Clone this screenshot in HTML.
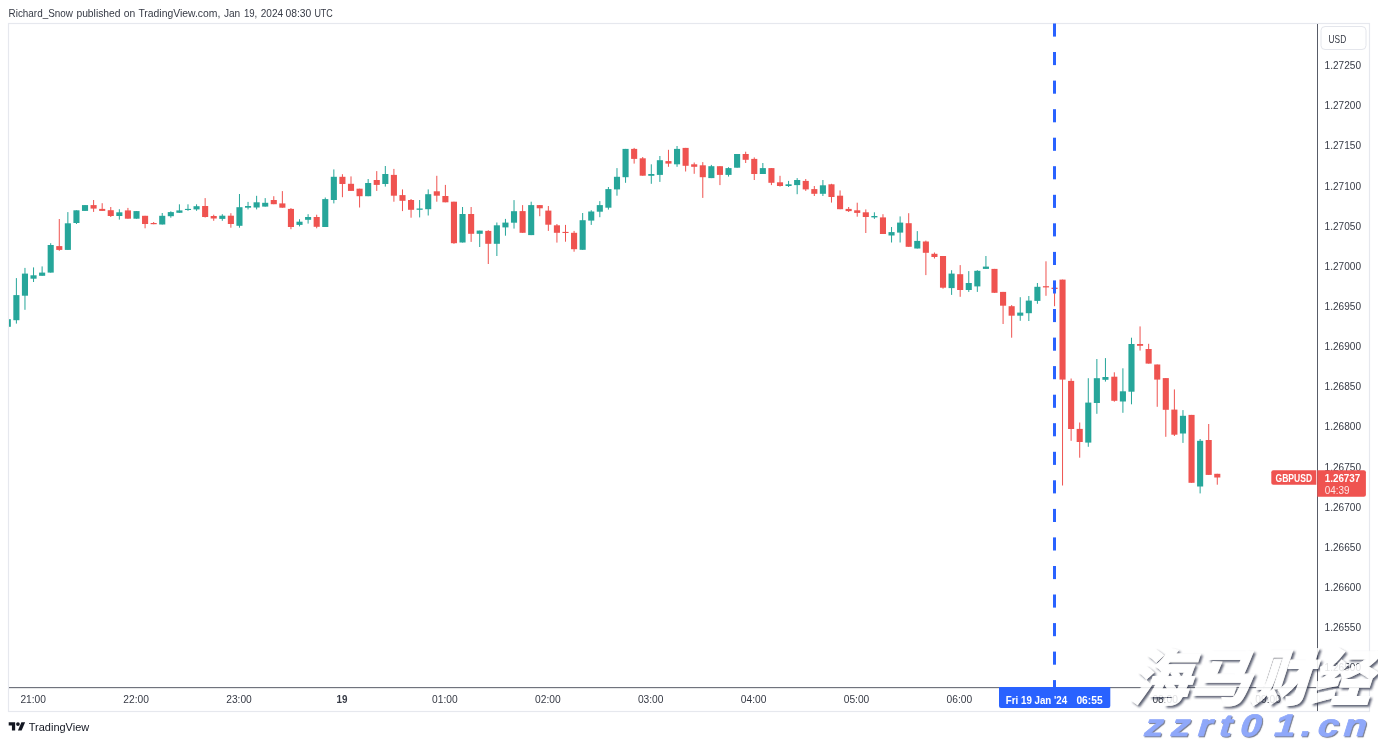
<!DOCTYPE html>
<html lang="en"><head><meta charset="utf-8"><title>GBPUSD chart</title>
<style>
html,body{margin:0;padding:0;background:#fff;}
body{width:1378px;height:742px;overflow:hidden;position:relative;font-family:"Liberation Sans",sans-serif;}
svg{position:absolute;left:0;top:0;display:block}
text{font-family:"Liberation Sans",sans-serif;}
.ax{font-size:11px;fill:#363a45}
.wm1{font-family:"Liberation Sans","Noto Sans CJK SC",sans-serif;font-weight:900;}
</style></head><body>
<svg width="1378" height="742" viewBox="0 0 1378 742">
<defs>
<filter id="sh" x="-5%" y="-10%" width="110%" height="125%"><feDropShadow dx="2" dy="1.9" stdDeviation="0.8" flood-color="#3a3f55" flood-opacity="0.95"/></filter>
<filter id="sh2" x="-5%" y="-20%" width="110%" height="150%"><feDropShadow dx="1.1" dy="1.1" stdDeviation="0.35" flood-color="#7d8294" flood-opacity="1"/></filter>
<clipPath id="plot"><rect x="9" y="24" width="1308" height="663"/></clipPath>
</defs>

<text y="16.5" class="ax"><tspan x="8.6" textLength="64.3" lengthAdjust="spacingAndGlyphs">Richard_Snow</tspan> <tspan x="76.4" textLength="44.2" lengthAdjust="spacingAndGlyphs">published</tspan> <tspan x="123.8" textLength="11.5" lengthAdjust="spacingAndGlyphs">on</tspan> <tspan x="138.4" textLength="82.0" lengthAdjust="spacingAndGlyphs">TradingView.com,</tspan> <tspan x="223.9" textLength="16.3" lengthAdjust="spacingAndGlyphs">Jan</tspan> <tspan x="243.9" textLength="13.4" lengthAdjust="spacingAndGlyphs">19,</tspan> <tspan x="260.7" textLength="22.4" lengthAdjust="spacingAndGlyphs">2024</tspan> <tspan x="285.5" textLength="25.8" lengthAdjust="spacingAndGlyphs">08:30</tspan> <tspan x="314.4" textLength="18.4" lengthAdjust="spacingAndGlyphs">UTC</tspan></text>
<rect x="8.5" y="23.5" width="1361" height="688" fill="#fff" stroke="#e6e8ee" stroke-width="1.2"/>
<text x="20.4" y="703" class="ax" text-anchor="start" textLength="25.6" lengthAdjust="spacingAndGlyphs" >21:00</text>
<text x="123.3" y="703" class="ax" text-anchor="start" textLength="25.6" lengthAdjust="spacingAndGlyphs" >22:00</text>
<text x="226.2" y="703" class="ax" text-anchor="start" textLength="25.6" lengthAdjust="spacingAndGlyphs" >23:00</text>
<text x="336.4" y="703" class="ax" text-anchor="start" textLength="11" lengthAdjust="spacingAndGlyphs" font-weight="bold">19</text>
<text x="432.0" y="703" class="ax" text-anchor="start" textLength="25.6" lengthAdjust="spacingAndGlyphs" >01:00</text>
<text x="535.0" y="703" class="ax" text-anchor="start" textLength="25.6" lengthAdjust="spacingAndGlyphs" >02:00</text>
<text x="637.9" y="703" class="ax" text-anchor="start" textLength="25.6" lengthAdjust="spacingAndGlyphs" >03:00</text>
<text x="740.8" y="703" class="ax" text-anchor="start" textLength="25.6" lengthAdjust="spacingAndGlyphs" >04:00</text>
<text x="843.7" y="703" class="ax" text-anchor="start" textLength="25.6" lengthAdjust="spacingAndGlyphs" >05:00</text>
<text x="946.6" y="703" class="ax" text-anchor="start" textLength="25.6" lengthAdjust="spacingAndGlyphs" >06:00</text>
<text x="1049.5" y="703" class="ax" text-anchor="start" textLength="25.6" lengthAdjust="spacingAndGlyphs" >07:00</text>
<text x="1152.4" y="703" class="ax" text-anchor="start" textLength="25.6" lengthAdjust="spacingAndGlyphs" >08:00</text>
<text x="1255.3" y="703" class="ax" text-anchor="start" textLength="25.6" lengthAdjust="spacingAndGlyphs" >09:00</text>
<text x="1324.6" y="69.1" class="ax" text-anchor="start" textLength="36.4" lengthAdjust="spacingAndGlyphs" >1.27250</text>
<text x="1324.6" y="109.2" class="ax" text-anchor="start" textLength="36.4" lengthAdjust="spacingAndGlyphs" >1.27200</text>
<text x="1324.6" y="149.4" class="ax" text-anchor="start" textLength="36.4" lengthAdjust="spacingAndGlyphs" >1.27150</text>
<text x="1324.6" y="189.5" class="ax" text-anchor="start" textLength="36.4" lengthAdjust="spacingAndGlyphs" >1.27100</text>
<text x="1324.6" y="229.7" class="ax" text-anchor="start" textLength="36.4" lengthAdjust="spacingAndGlyphs" >1.27050</text>
<text x="1324.6" y="269.8" class="ax" text-anchor="start" textLength="36.4" lengthAdjust="spacingAndGlyphs" >1.27000</text>
<text x="1324.6" y="309.9" class="ax" text-anchor="start" textLength="36.4" lengthAdjust="spacingAndGlyphs" >1.26950</text>
<text x="1324.6" y="350.1" class="ax" text-anchor="start" textLength="36.4" lengthAdjust="spacingAndGlyphs" >1.26900</text>
<text x="1324.6" y="390.2" class="ax" text-anchor="start" textLength="36.4" lengthAdjust="spacingAndGlyphs" >1.26850</text>
<text x="1324.6" y="430.4" class="ax" text-anchor="start" textLength="36.4" lengthAdjust="spacingAndGlyphs" >1.26800</text>
<text x="1324.6" y="470.5" class="ax" text-anchor="start" textLength="36.4" lengthAdjust="spacingAndGlyphs" >1.26750</text>
<text x="1324.6" y="510.6" class="ax" text-anchor="start" textLength="36.4" lengthAdjust="spacingAndGlyphs" >1.26700</text>
<text x="1324.6" y="550.8" class="ax" text-anchor="start" textLength="36.4" lengthAdjust="spacingAndGlyphs" >1.26650</text>
<text x="1324.6" y="590.9" class="ax" text-anchor="start" textLength="36.4" lengthAdjust="spacingAndGlyphs" >1.26600</text>
<text x="1324.6" y="631.1" class="ax" text-anchor="start" textLength="36.4" lengthAdjust="spacingAndGlyphs" >1.26550</text>
<text x="1324.6" y="671.2" class="ax" text-anchor="start" textLength="36.4" lengthAdjust="spacingAndGlyphs" >1.26500</text>
<rect x="1321" y="26.5" width="45" height="23" rx="4" fill="#fff" stroke="#e4e6ec" stroke-width="1"/>
<text x="1328.6" y="42.6" class="ax" text-anchor="start" textLength="17.6" lengthAdjust="spacingAndGlyphs" >USD</text>
<rect x="1317" y="24" width="1" height="687" fill="#585c67"/>
<rect x="9" y="687.15" width="1360" height="1" fill="#585c67"/>
<g clip-path="url(#plot)">
<rect x="7.30" y="319.2" width="1" height="7.6" fill="#26a69a"/>
<rect x="4.75" y="319.2" width="6.1" height="7.6" fill="#26a69a"/>
<rect x="15.88" y="278.1" width="1" height="45.5" fill="#26a69a"/>
<rect x="13.33" y="295.1" width="6.1" height="25.1" fill="#26a69a"/>
<rect x="24.46" y="267.9" width="1" height="41.9" fill="#26a69a"/>
<rect x="21.91" y="273.6" width="6.1" height="22.1" fill="#26a69a"/>
<rect x="33.04" y="267.4" width="1" height="14.6" fill="#26a69a"/>
<rect x="30.49" y="275.3" width="6.1" height="3.4" fill="#26a69a"/>
<rect x="41.62" y="266.4" width="1" height="9.4" fill="#26a69a"/>
<rect x="39.07" y="272.6" width="6.1" height="3.2" fill="#26a69a"/>
<rect x="50.20" y="243.2" width="1" height="29.4" fill="#26a69a"/>
<rect x="47.65" y="245.0" width="6.1" height="27.6" fill="#26a69a"/>
<rect x="58.78" y="219.0" width="1" height="31.8" fill="#ef5350"/>
<rect x="56.23" y="246.1" width="6.1" height="3.8" fill="#ef5350"/>
<rect x="67.36" y="212.1" width="1" height="37.8" fill="#26a69a"/>
<rect x="64.81" y="223.3" width="6.1" height="26.6" fill="#26a69a"/>
<rect x="75.94" y="210.3" width="1" height="13.7" fill="#26a69a"/>
<rect x="73.39" y="210.3" width="6.1" height="12.7" fill="#26a69a"/>
<rect x="84.52" y="205.1" width="1" height="5.8" fill="#26a69a"/>
<rect x="81.97" y="205.1" width="6.1" height="5.8" fill="#26a69a"/>
<rect x="93.10" y="200.0" width="1" height="11.9" fill="#ef5350"/>
<rect x="90.55" y="205.1" width="6.1" height="3.5" fill="#ef5350"/>
<rect x="101.68" y="203.2" width="1" height="7.7" fill="#ef5350"/>
<rect x="99.13" y="208.9" width="6.1" height="2.0" fill="#ef5350"/>
<rect x="110.26" y="207.0" width="1" height="10.0" fill="#ef5350"/>
<rect x="107.71" y="210.2" width="6.1" height="5.8" fill="#ef5350"/>
<rect x="118.84" y="209.2" width="1" height="10.4" fill="#26a69a"/>
<rect x="116.29" y="212.3" width="6.1" height="3.7" fill="#26a69a"/>
<rect x="127.42" y="207.9" width="1" height="10.8" fill="#ef5350"/>
<rect x="124.87" y="210.4" width="6.1" height="8.3" fill="#ef5350"/>
<rect x="136.00" y="211.1" width="1" height="7.6" fill="#26a69a"/>
<rect x="133.45" y="211.1" width="6.1" height="7.6" fill="#26a69a"/>
<rect x="144.58" y="215.8" width="1" height="12.5" fill="#ef5350"/>
<rect x="142.03" y="215.8" width="6.1" height="8.2" fill="#ef5350"/>
<rect x="153.16" y="222.0" width="1" height="2.2" fill="#ef5350"/>
<rect x="150.61" y="223.0" width="6.1" height="1.2" fill="#ef5350"/>
<rect x="161.74" y="213.0" width="1" height="11.5" fill="#26a69a"/>
<rect x="159.19" y="215.8" width="6.1" height="8.7" fill="#26a69a"/>
<rect x="170.32" y="211.3" width="1" height="6.4" fill="#26a69a"/>
<rect x="167.77" y="212.1" width="6.1" height="4.1" fill="#26a69a"/>
<rect x="178.90" y="204.3" width="1" height="8.5" fill="#26a69a"/>
<rect x="176.35" y="210.4" width="6.1" height="2.4" fill="#26a69a"/>
<rect x="187.48" y="204.3" width="1" height="6.5" fill="#26a69a"/>
<rect x="184.93" y="208.9" width="6.1" height="1.1" fill="#26a69a"/>
<rect x="196.06" y="204.3" width="1" height="6.5" fill="#26a69a"/>
<rect x="193.51" y="206.2" width="6.1" height="3.2" fill="#26a69a"/>
<rect x="204.64" y="198.1" width="1" height="19.4" fill="#ef5350"/>
<rect x="202.09" y="206.0" width="6.1" height="11.0" fill="#ef5350"/>
<rect x="213.22" y="214.7" width="1" height="6.1" fill="#ef5350"/>
<rect x="210.67" y="216.0" width="6.1" height="2.5" fill="#ef5350"/>
<rect x="221.80" y="214.2" width="1" height="6.6" fill="#26a69a"/>
<rect x="219.25" y="215.7" width="6.1" height="3.2" fill="#26a69a"/>
<rect x="230.38" y="213.2" width="1" height="14.5" fill="#ef5350"/>
<rect x="227.83" y="215.7" width="6.1" height="8.3" fill="#ef5350"/>
<rect x="238.96" y="194.0" width="1" height="33.7" fill="#26a69a"/>
<rect x="236.41" y="207.2" width="6.1" height="18.6" fill="#26a69a"/>
<rect x="247.54" y="201.9" width="1" height="7.5" fill="#26a69a"/>
<rect x="244.99" y="206.0" width="6.1" height="1.7" fill="#26a69a"/>
<rect x="256.12" y="195.8" width="1" height="13.6" fill="#26a69a"/>
<rect x="253.57" y="202.3" width="6.1" height="5.2" fill="#26a69a"/>
<rect x="264.70" y="198.1" width="1" height="8.5" fill="#26a69a"/>
<rect x="262.15" y="202.8" width="6.1" height="3.8" fill="#26a69a"/>
<rect x="273.28" y="196.2" width="1" height="8.0" fill="#ef5350"/>
<rect x="270.73" y="200.0" width="6.1" height="4.2" fill="#ef5350"/>
<rect x="281.86" y="191.1" width="1" height="16.6" fill="#ef5350"/>
<rect x="279.31" y="203.4" width="6.1" height="4.3" fill="#ef5350"/>
<rect x="290.44" y="208.1" width="1" height="21.1" fill="#ef5350"/>
<rect x="287.89" y="208.9" width="6.1" height="18.1" fill="#ef5350"/>
<rect x="299.02" y="219.2" width="1" height="7.2" fill="#26a69a"/>
<rect x="296.47" y="221.7" width="6.1" height="3.2" fill="#26a69a"/>
<rect x="307.60" y="214.2" width="1" height="9.4" fill="#26a69a"/>
<rect x="305.05" y="217.0" width="6.1" height="2.8" fill="#26a69a"/>
<rect x="316.18" y="214.7" width="1" height="13.6" fill="#ef5350"/>
<rect x="313.63" y="217.0" width="6.1" height="9.8" fill="#ef5350"/>
<rect x="324.76" y="197.5" width="1" height="29.5" fill="#26a69a"/>
<rect x="322.21" y="199.1" width="6.1" height="27.9" fill="#26a69a"/>
<rect x="333.34" y="169.4" width="1" height="34.0" fill="#26a69a"/>
<rect x="330.79" y="176.8" width="6.1" height="23.2" fill="#26a69a"/>
<rect x="341.92" y="174.2" width="1" height="23.0" fill="#ef5350"/>
<rect x="339.37" y="176.8" width="6.1" height="7.2" fill="#ef5350"/>
<rect x="350.50" y="176.4" width="1" height="14.5" fill="#ef5350"/>
<rect x="347.95" y="183.8" width="6.1" height="7.1" fill="#ef5350"/>
<rect x="359.08" y="188.7" width="1" height="18.8" fill="#ef5350"/>
<rect x="356.53" y="188.7" width="6.1" height="7.5" fill="#ef5350"/>
<rect x="367.66" y="179.0" width="1" height="17.2" fill="#26a69a"/>
<rect x="365.11" y="183.0" width="6.1" height="13.2" fill="#26a69a"/>
<rect x="376.24" y="171.1" width="1" height="19.8" fill="#ef5350"/>
<rect x="373.69" y="180.0" width="6.1" height="4.9" fill="#ef5350"/>
<rect x="384.82" y="166.0" width="1" height="20.6" fill="#26a69a"/>
<rect x="382.27" y="174.0" width="6.1" height="10.0" fill="#26a69a"/>
<rect x="393.40" y="168.9" width="1" height="32.8" fill="#ef5350"/>
<rect x="390.85" y="174.9" width="6.1" height="20.8" fill="#ef5350"/>
<rect x="401.98" y="189.4" width="1" height="21.7" fill="#ef5350"/>
<rect x="399.43" y="195.1" width="6.1" height="5.7" fill="#ef5350"/>
<rect x="410.56" y="199.0" width="1" height="18.7" fill="#ef5350"/>
<rect x="408.01" y="200.0" width="6.1" height="9.8" fill="#ef5350"/>
<rect x="419.14" y="200.0" width="1" height="17.4" fill="#26a69a"/>
<rect x="416.59" y="208.5" width="6.1" height="1.3" fill="#26a69a"/>
<rect x="427.72" y="189.4" width="1" height="26.1" fill="#26a69a"/>
<rect x="425.17" y="194.2" width="6.1" height="15.0" fill="#26a69a"/>
<rect x="436.30" y="175.8" width="1" height="25.9" fill="#ef5350"/>
<rect x="433.75" y="191.3" width="6.1" height="4.4" fill="#ef5350"/>
<rect x="444.88" y="184.9" width="1" height="17.4" fill="#ef5350"/>
<rect x="442.33" y="196.0" width="6.1" height="6.3" fill="#ef5350"/>
<rect x="453.46" y="201.7" width="1" height="42.1" fill="#ef5350"/>
<rect x="450.91" y="201.7" width="6.1" height="41.5" fill="#ef5350"/>
<rect x="462.04" y="207.0" width="1" height="35.5" fill="#26a69a"/>
<rect x="459.49" y="214.0" width="6.1" height="28.5" fill="#26a69a"/>
<rect x="470.62" y="207.0" width="1" height="34.9" fill="#ef5350"/>
<rect x="468.07" y="214.0" width="6.1" height="19.8" fill="#ef5350"/>
<rect x="479.20" y="230.6" width="1" height="16.4" fill="#26a69a"/>
<rect x="476.65" y="230.6" width="6.1" height="3.2" fill="#26a69a"/>
<rect x="487.78" y="230.2" width="1" height="33.8" fill="#ef5350"/>
<rect x="485.23" y="230.9" width="6.1" height="12.9" fill="#ef5350"/>
<rect x="496.36" y="222.5" width="1" height="33.5" fill="#26a69a"/>
<rect x="493.81" y="225.3" width="6.1" height="18.5" fill="#26a69a"/>
<rect x="504.94" y="218.9" width="1" height="16.8" fill="#26a69a"/>
<rect x="502.39" y="222.6" width="6.1" height="4.8" fill="#26a69a"/>
<rect x="513.52" y="200.1" width="1" height="28.5" fill="#26a69a"/>
<rect x="510.97" y="211.2" width="6.1" height="11.5" fill="#26a69a"/>
<rect x="522.10" y="205.1" width="1" height="27.7" fill="#ef5350"/>
<rect x="519.55" y="211.1" width="6.1" height="21.7" fill="#ef5350"/>
<rect x="530.68" y="201.7" width="1" height="33.4" fill="#26a69a"/>
<rect x="528.13" y="205.1" width="6.1" height="30.0" fill="#26a69a"/>
<rect x="539.26" y="205.1" width="1" height="11.1" fill="#ef5350"/>
<rect x="536.71" y="205.1" width="6.1" height="3.2" fill="#ef5350"/>
<rect x="547.84" y="206.0" width="1" height="24.9" fill="#ef5350"/>
<rect x="545.29" y="210.6" width="6.1" height="14.1" fill="#ef5350"/>
<rect x="556.42" y="224.0" width="1" height="18.6" fill="#ef5350"/>
<rect x="553.87" y="225.3" width="6.1" height="7.5" fill="#ef5350"/>
<rect x="565.00" y="224.9" width="1" height="16.8" fill="#ef5350"/>
<rect x="562.45" y="231.9" width="6.1" height="1.1" fill="#ef5350"/>
<rect x="573.58" y="230.9" width="1" height="20.8" fill="#ef5350"/>
<rect x="571.03" y="232.8" width="6.1" height="16.4" fill="#ef5350"/>
<rect x="582.16" y="213.0" width="1" height="36.8" fill="#26a69a"/>
<rect x="579.61" y="220.2" width="6.1" height="29.6" fill="#26a69a"/>
<rect x="590.74" y="210.2" width="1" height="14.7" fill="#26a69a"/>
<rect x="588.19" y="211.5" width="6.1" height="9.1" fill="#26a69a"/>
<rect x="599.32" y="201.1" width="1" height="16.1" fill="#26a69a"/>
<rect x="596.77" y="205.1" width="6.1" height="6.6" fill="#26a69a"/>
<rect x="607.90" y="187.0" width="1" height="22.6" fill="#26a69a"/>
<rect x="605.35" y="189.1" width="6.1" height="18.6" fill="#26a69a"/>
<rect x="616.48" y="168.1" width="1" height="27.6" fill="#26a69a"/>
<rect x="613.93" y="176.8" width="6.1" height="12.6" fill="#26a69a"/>
<rect x="625.06" y="148.9" width="1" height="33.9" fill="#26a69a"/>
<rect x="622.51" y="148.9" width="6.1" height="28.3" fill="#26a69a"/>
<rect x="633.64" y="147.9" width="1" height="15.7" fill="#ef5350"/>
<rect x="631.09" y="148.9" width="6.1" height="10.0" fill="#ef5350"/>
<rect x="642.22" y="157.0" width="1" height="18.7" fill="#ef5350"/>
<rect x="639.67" y="158.3" width="6.1" height="17.4" fill="#ef5350"/>
<rect x="650.80" y="164.3" width="1" height="19.5" fill="#26a69a"/>
<rect x="648.25" y="174.0" width="6.1" height="1.8" fill="#26a69a"/>
<rect x="659.38" y="156.0" width="1" height="25.9" fill="#26a69a"/>
<rect x="656.83" y="160.2" width="6.1" height="14.7" fill="#26a69a"/>
<rect x="667.96" y="149.8" width="1" height="17.0" fill="#ef5350"/>
<rect x="665.41" y="161.1" width="6.1" height="2.5" fill="#ef5350"/>
<rect x="676.54" y="146.0" width="1" height="20.8" fill="#26a69a"/>
<rect x="673.99" y="148.9" width="6.1" height="15.4" fill="#26a69a"/>
<rect x="685.12" y="147.9" width="1" height="23.6" fill="#ef5350"/>
<rect x="682.57" y="147.9" width="6.1" height="17.9" fill="#ef5350"/>
<rect x="693.70" y="162.5" width="1" height="11.3" fill="#ef5350"/>
<rect x="691.15" y="164.3" width="6.1" height="2.5" fill="#ef5350"/>
<rect x="702.28" y="162.1" width="1" height="35.8" fill="#ef5350"/>
<rect x="699.73" y="165.3" width="6.1" height="11.9" fill="#ef5350"/>
<rect x="710.86" y="164.9" width="1" height="13.2" fill="#26a69a"/>
<rect x="708.31" y="166.2" width="6.1" height="11.9" fill="#26a69a"/>
<rect x="719.44" y="166.2" width="1" height="18.9" fill="#ef5350"/>
<rect x="716.89" y="166.2" width="6.1" height="8.7" fill="#ef5350"/>
<rect x="728.02" y="167.2" width="1" height="9.4" fill="#26a69a"/>
<rect x="725.47" y="168.1" width="6.1" height="6.8" fill="#26a69a"/>
<rect x="736.60" y="154.0" width="1" height="13.7" fill="#26a69a"/>
<rect x="734.05" y="154.0" width="6.1" height="13.7" fill="#26a69a"/>
<rect x="745.18" y="151.7" width="1" height="11.3" fill="#ef5350"/>
<rect x="742.63" y="154.0" width="6.1" height="5.8" fill="#ef5350"/>
<rect x="753.76" y="157.4" width="1" height="22.6" fill="#ef5350"/>
<rect x="751.21" y="158.9" width="6.1" height="15.1" fill="#ef5350"/>
<rect x="762.34" y="163.0" width="1" height="11.0" fill="#26a69a"/>
<rect x="759.79" y="168.1" width="6.1" height="5.9" fill="#26a69a"/>
<rect x="770.92" y="168.1" width="1" height="17.0" fill="#ef5350"/>
<rect x="768.37" y="168.1" width="6.1" height="14.7" fill="#ef5350"/>
<rect x="779.50" y="175.8" width="1" height="10.8" fill="#ef5350"/>
<rect x="776.95" y="182.3" width="6.1" height="3.7" fill="#ef5350"/>
<rect x="788.08" y="180.9" width="1" height="6.1" fill="#26a69a"/>
<rect x="785.53" y="184.3" width="6.1" height="1.7" fill="#26a69a"/>
<rect x="796.66" y="178.1" width="1" height="16.1" fill="#26a69a"/>
<rect x="794.11" y="180.0" width="6.1" height="5.1" fill="#26a69a"/>
<rect x="805.24" y="179.0" width="1" height="11.9" fill="#ef5350"/>
<rect x="802.69" y="180.9" width="6.1" height="8.5" fill="#ef5350"/>
<rect x="813.82" y="186.0" width="1" height="10.0" fill="#ef5350"/>
<rect x="811.27" y="189.1" width="6.1" height="4.7" fill="#ef5350"/>
<rect x="822.40" y="180.0" width="1" height="16.0" fill="#26a69a"/>
<rect x="819.85" y="185.3" width="6.1" height="8.5" fill="#26a69a"/>
<rect x="830.98" y="183.8" width="1" height="18.8" fill="#ef5350"/>
<rect x="828.43" y="184.3" width="6.1" height="12.7" fill="#ef5350"/>
<rect x="839.56" y="190.4" width="1" height="18.8" fill="#ef5350"/>
<rect x="837.01" y="195.7" width="6.1" height="13.5" fill="#ef5350"/>
<rect x="848.14" y="207.0" width="1" height="5.0" fill="#ef5350"/>
<rect x="845.59" y="208.9" width="6.1" height="2.2" fill="#ef5350"/>
<rect x="856.72" y="202.7" width="1" height="14.0" fill="#ef5350"/>
<rect x="854.17" y="210.3" width="6.1" height="2.6" fill="#ef5350"/>
<rect x="865.30" y="209.4" width="1" height="23.6" fill="#ef5350"/>
<rect x="862.75" y="212.3" width="6.1" height="4.7" fill="#ef5350"/>
<rect x="873.88" y="212.3" width="1" height="6.6" fill="#26a69a"/>
<rect x="871.33" y="216.0" width="6.1" height="1.4" fill="#26a69a"/>
<rect x="882.46" y="214.2" width="1" height="19.8" fill="#ef5350"/>
<rect x="879.91" y="217.4" width="6.1" height="16.6" fill="#ef5350"/>
<rect x="891.04" y="227.0" width="1" height="15.5" fill="#26a69a"/>
<rect x="888.49" y="232.1" width="6.1" height="3.4" fill="#26a69a"/>
<rect x="899.62" y="216.4" width="1" height="26.1" fill="#26a69a"/>
<rect x="897.07" y="222.6" width="6.1" height="10.0" fill="#26a69a"/>
<rect x="908.20" y="213.2" width="1" height="33.6" fill="#ef5350"/>
<rect x="905.65" y="223.2" width="6.1" height="23.6" fill="#ef5350"/>
<rect x="916.78" y="231.1" width="1" height="17.4" fill="#26a69a"/>
<rect x="914.23" y="240.9" width="6.1" height="7.6" fill="#26a69a"/>
<rect x="925.36" y="240.6" width="1" height="34.5" fill="#ef5350"/>
<rect x="922.81" y="241.5" width="6.1" height="11.3" fill="#ef5350"/>
<rect x="933.94" y="252.5" width="1" height="6.0" fill="#ef5350"/>
<rect x="931.39" y="253.8" width="6.1" height="3.2" fill="#ef5350"/>
<rect x="942.52" y="256.0" width="1" height="32.7" fill="#ef5350"/>
<rect x="939.97" y="256.0" width="6.1" height="31.7" fill="#ef5350"/>
<rect x="951.10" y="270.2" width="1" height="24.7" fill="#26a69a"/>
<rect x="948.55" y="273.6" width="6.1" height="14.5" fill="#26a69a"/>
<rect x="959.68" y="265.1" width="1" height="31.7" fill="#ef5350"/>
<rect x="957.13" y="274.2" width="6.1" height="15.8" fill="#ef5350"/>
<rect x="968.26" y="271.1" width="1" height="20.8" fill="#26a69a"/>
<rect x="965.71" y="283.0" width="6.1" height="7.0" fill="#26a69a"/>
<rect x="976.84" y="270.2" width="1" height="21.7" fill="#26a69a"/>
<rect x="974.29" y="270.8" width="6.1" height="15.6" fill="#26a69a"/>
<rect x="985.42" y="256.0" width="1" height="12.9" fill="#26a69a"/>
<rect x="982.87" y="266.6" width="6.1" height="2.3" fill="#26a69a"/>
<rect x="994.00" y="268.9" width="1" height="23.9" fill="#ef5350"/>
<rect x="991.45" y="268.9" width="6.1" height="23.9" fill="#ef5350"/>
<rect x="1002.58" y="291.9" width="1" height="32.1" fill="#ef5350"/>
<rect x="1000.03" y="291.9" width="6.1" height="13.8" fill="#ef5350"/>
<rect x="1011.16" y="305.1" width="1" height="32.6" fill="#ef5350"/>
<rect x="1008.61" y="306.2" width="6.1" height="9.5" fill="#ef5350"/>
<rect x="1019.74" y="297.2" width="1" height="23.6" fill="#26a69a"/>
<rect x="1017.19" y="312.6" width="6.1" height="3.1" fill="#26a69a"/>
<rect x="1028.32" y="296.0" width="1" height="25.0" fill="#26a69a"/>
<rect x="1025.77" y="300.6" width="6.1" height="12.6" fill="#26a69a"/>
<rect x="1036.90" y="283.0" width="1" height="20.8" fill="#26a69a"/>
<rect x="1034.35" y="286.8" width="6.1" height="14.1" fill="#26a69a"/>
<rect x="1045.48" y="261.3" width="1" height="34.5" fill="#ef5350"/>
<rect x="1042.93" y="286.2" width="6.1" height="1.2" fill="#ef5350"/>
<rect x="1054.06" y="287.7" width="1" height="18.5" fill="#ef5350"/>
<rect x="1051.51" y="287.7" width="6.1" height="1.3" fill="#ef5350"/>
<rect x="1062.04" y="279.6" width="1" height="205.9" fill="#ef5350"/>
<rect x="1059.49" y="279.6" width="6.1" height="100.0" fill="#ef5350"/>
<rect x="1070.62" y="378.5" width="1" height="62.3" fill="#ef5350"/>
<rect x="1068.07" y="380.9" width="6.1" height="48.1" fill="#ef5350"/>
<rect x="1079.20" y="422.5" width="1" height="35.2" fill="#ef5350"/>
<rect x="1076.65" y="428.9" width="6.1" height="13.1" fill="#ef5350"/>
<rect x="1087.78" y="378.2" width="1" height="68.6" fill="#26a69a"/>
<rect x="1085.23" y="402.6" width="6.1" height="40.0" fill="#26a69a"/>
<rect x="1096.36" y="359.0" width="1" height="54.8" fill="#26a69a"/>
<rect x="1093.81" y="378.2" width="6.1" height="24.8" fill="#26a69a"/>
<rect x="1104.94" y="358.1" width="1" height="23.5" fill="#26a69a"/>
<rect x="1102.39" y="377.0" width="6.1" height="2.8" fill="#26a69a"/>
<rect x="1113.82" y="372.3" width="1" height="29.4" fill="#ef5350"/>
<rect x="1111.27" y="376.7" width="6.1" height="24.1" fill="#ef5350"/>
<rect x="1122.40" y="368.3" width="1" height="44.5" fill="#26a69a"/>
<rect x="1119.85" y="391.3" width="6.1" height="10.2" fill="#26a69a"/>
<rect x="1130.98" y="337.7" width="1" height="66.6" fill="#26a69a"/>
<rect x="1128.43" y="344.0" width="6.1" height="47.7" fill="#26a69a"/>
<rect x="1139.56" y="326.4" width="1" height="24.2" fill="#ef5350"/>
<rect x="1137.01" y="344.0" width="6.1" height="1.8" fill="#ef5350"/>
<rect x="1148.14" y="343.8" width="1" height="19.8" fill="#ef5350"/>
<rect x="1145.59" y="349.0" width="6.1" height="14.6" fill="#ef5350"/>
<rect x="1156.72" y="364.5" width="1" height="42.3" fill="#ef5350"/>
<rect x="1154.17" y="364.5" width="6.1" height="15.1" fill="#ef5350"/>
<rect x="1165.30" y="378.1" width="1" height="58.7" fill="#ef5350"/>
<rect x="1162.75" y="378.1" width="6.1" height="31.7" fill="#ef5350"/>
<rect x="1173.88" y="389.4" width="1" height="46.6" fill="#ef5350"/>
<rect x="1171.33" y="409.6" width="6.1" height="25.1" fill="#ef5350"/>
<rect x="1182.46" y="410.1" width="1" height="32.8" fill="#26a69a"/>
<rect x="1179.91" y="415.8" width="6.1" height="17.7" fill="#26a69a"/>
<rect x="1191.04" y="414.9" width="1" height="67.9" fill="#ef5350"/>
<rect x="1188.49" y="414.9" width="6.1" height="67.9" fill="#ef5350"/>
<rect x="1199.62" y="439.0" width="1" height="54.4" fill="#26a69a"/>
<rect x="1197.07" y="440.8" width="6.1" height="45.7" fill="#26a69a"/>
<rect x="1208.20" y="424.0" width="1" height="50.9" fill="#ef5350"/>
<rect x="1205.65" y="440.0" width="6.1" height="34.9" fill="#ef5350"/>
<rect x="1216.78" y="473.8" width="1" height="10.9" fill="#ef5350"/>
<rect x="1214.23" y="473.8" width="6.1" height="3.7" fill="#ef5350"/>
</g>
<rect x="1053" y="23.5" width="3" height="13.1" fill="#2962ff"/>
<rect x="1053" y="52.0" width="3" height="13.1" fill="#2962ff"/>
<rect x="1053" y="80.6" width="3" height="13.1" fill="#2962ff"/>
<rect x="1053" y="109.2" width="3" height="13.1" fill="#2962ff"/>
<rect x="1053" y="137.7" width="3" height="13.1" fill="#2962ff"/>
<rect x="1053" y="166.2" width="3" height="13.1" fill="#2962ff"/>
<rect x="1053" y="194.8" width="3" height="13.1" fill="#2962ff"/>
<rect x="1053" y="223.3" width="3" height="13.1" fill="#2962ff"/>
<rect x="1053" y="251.9" width="3" height="13.1" fill="#2962ff"/>
<rect x="1053" y="280.4" width="3" height="13.1" fill="#2962ff"/>
<rect x="1053" y="309.0" width="3" height="13.1" fill="#2962ff"/>
<rect x="1053" y="337.6" width="3" height="13.1" fill="#2962ff"/>
<rect x="1053" y="366.1" width="3" height="13.1" fill="#2962ff"/>
<rect x="1053" y="394.7" width="3" height="13.1" fill="#2962ff"/>
<rect x="1053" y="423.2" width="3" height="13.1" fill="#2962ff"/>
<rect x="1053" y="451.8" width="3" height="13.1" fill="#2962ff"/>
<rect x="1053" y="480.3" width="3" height="13.1" fill="#2962ff"/>
<rect x="1053" y="508.9" width="3" height="13.1" fill="#2962ff"/>
<rect x="1053" y="537.4" width="3" height="13.1" fill="#2962ff"/>
<rect x="1053" y="566.0" width="3" height="13.1" fill="#2962ff"/>
<rect x="1053" y="594.5" width="3" height="13.1" fill="#2962ff"/>
<rect x="1053" y="623.1" width="3" height="13.1" fill="#2962ff"/>
<rect x="1053" y="651.6" width="3" height="13.1" fill="#2962ff"/>
<rect x="1053" y="680.1" width="3" height="6.9" fill="#2962ff"/>
<path d="M999 687h111.3v19.0a2 2 0 0 1-2 2h-107.3a2 2 0 0 1-2-2z" fill="#2962ff"/>
<text x="1005.8" y="703.8" class="ax" text-anchor="start" textLength="61.4" lengthAdjust="spacingAndGlyphs" fill="#fff" font-weight="bold" style="fill:#fff">Fri 19 Jan '24</text>
<text x="1076.4" y="703.8" class="ax" text-anchor="start" textLength="26.2" lengthAdjust="spacingAndGlyphs" font-weight="bold" style="fill:#fff">06:55</text>
<path d="M1273.3 470.3h43v14.5h-43a2 2 0 0 1-2-2v-10.5a2 2 0 0 1 2-2z" fill="#ef5350"/>
<text x="1275.5" y="481.5" class="ax" text-anchor="start" textLength="36.6" lengthAdjust="spacingAndGlyphs" style="fill:#fff" font-weight="bold">GBPUSD</text>
<path d="M1317.3 470.3h46.6a2 2 0 0 1 2 2v22.5a2 2 0 0 1-2 2h-46.6z" fill="#ef5350"/>
<text x="1324.7" y="481.7" class="ax" text-anchor="start" textLength="35.6" lengthAdjust="spacingAndGlyphs" style="fill:#fff" font-weight="bold">1.26737</text>
<text x="1324.7" y="493.6" class="ax" text-anchor="start" textLength="24.8" lengthAdjust="spacingAndGlyphs" style="fill:#fff;fill-opacity:.85">04:39</text>
<g transform="translate(8.7 720.4) scale(0.462)" fill="#131722"><path d="M14 22H7V11H0V4h14v18z"/><circle cx="20" cy="8" r="4"/><path d="M28 22h-8l7.5-18h8L28 22z"/></g>
<text x="28.8" y="730.7" class="ax" text-anchor="start" textLength="60.4" lengthAdjust="spacingAndGlyphs" style="fill:#131722">TradingView</text>
<g opacity="0.86"><g filter="url(#sh)"><text class="wm1" transform="translate(1128 700) skewX(-18)" x="0" y="0" font-size="60.5" fill="#fff" stroke="#fff" stroke-width="0.9">海马财经</text></g></g>
<g filter="url(#sh2)"><text transform="translate(1143 736.3) skewX(-17) scale(1.22 1)" x="-0.6 21.4 43.0 60.7 77.9 105.8 127.7 141.4 162.6" y="0" font-size="31" style="fill:#8fa8fa;font-weight:bold;stroke:#8fa8fa;stroke-width:0.7;stroke-linejoin:round">zzrt01.cn</text></g>
</svg></body></html>
